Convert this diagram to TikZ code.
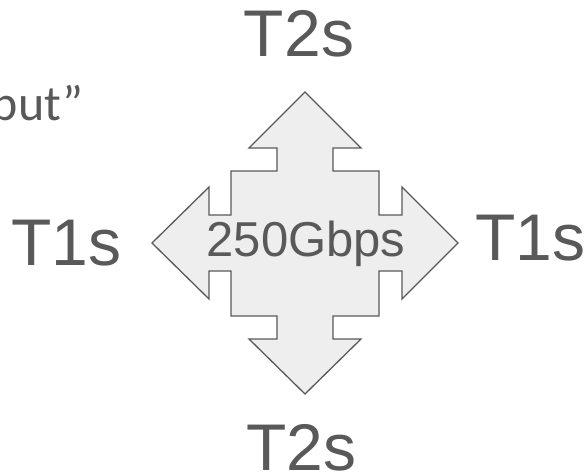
\documentclass[tikz,border=0pt]{standalone}
\usepackage{fontspec}
\setmainfont{Liberation Sans}
\newfontfamily\calib{Carlito}
\definecolor{txt}{HTML}{595959}
\definecolor{shapefill}{HTML}{EEEEEE}
\tikzset{
  lbl/.style={anchor=base, inner sep=0pt, text depth=0pt, text=txt, font=\fontsize{66}{70}\selectfont},
  midlbl/.style={anchor=base, inner sep=0pt, text=txt, font=\fontsize{49}{52}\selectfont},
  arrowshape/.style={draw=txt, fill=shapefill, line width=1.3pt, line join=miter}
}
\begin{document}
\begin{tikzpicture}[x=1pt,y=-1pt]
\useasboundingbox (0,0) rectangle (587,475);
\clip (0,0) rectangle (587,475);
\draw[arrowshape] (305,92) -- (361,148) -- (333,148) -- (333,171) -- (379,171) -- (379,215) -- (402,215) -- (402,187) -- (458,243) -- (402,299) -- (402,271) -- (379,271) -- (379,316) -- (333,316) -- (333,339) -- (361,339) -- (305,394) -- (249,339) -- (277,339) -- (277,316) -- (231,316) -- (231,271) -- (209,271) -- (209,299) -- (152,243) -- (209,187) -- (209,215) -- (231,215) -- (231,171) -- (277,171) -- (277,148) -- (249,148) -- cycle;
\node[midlbl] (bw) at (306,256) {250Gbps};
\node[lbl] (t2top) at (299,56) {T2s};
\node[lbl] (t2bot) at (301.5,470.5) {T2s};
\node[lbl] (t1left) at (66.5,265) {T1s};
\node[lbl] (t1right) at (530.5,260) {T1s};
\node[anchor=base east, inner sep=0pt, text=txt, font=\calib\fontsize{50}{52}\selectfont] (out) at (84,120) {“Output”};
\end{tikzpicture}
\end{document}
